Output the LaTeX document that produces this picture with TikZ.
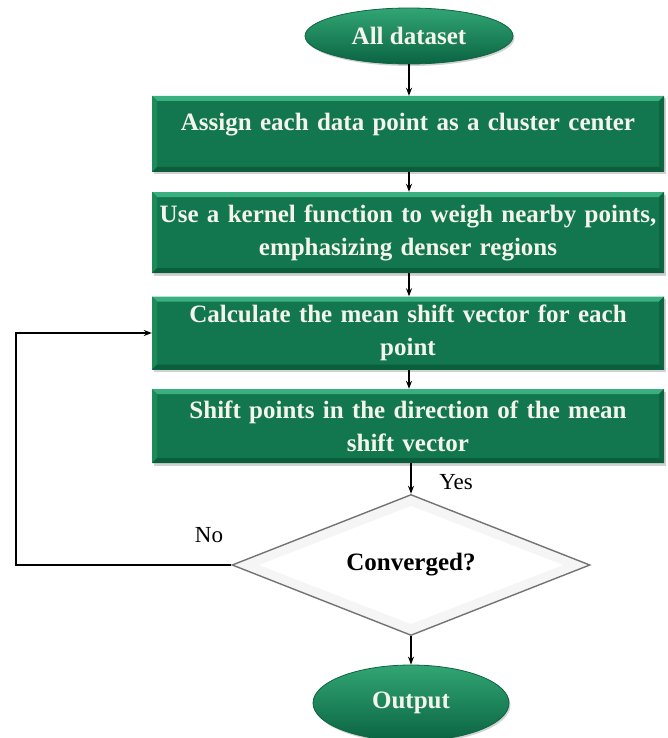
\documentclass[tikz,border=0pt]{standalone}
\usepackage{fontspec}
\setmainfont{Liberation Serif}
\usetikzlibrary{shapes.geometric,arrows.meta,shadows}
\definecolor{gmain}{HTML}{12774E}
\definecolor{gtop}{HTML}{3AB080}
\definecolor{gleft}{HTML}{1D8A5A}
\definecolor{gright}{HTML}{0D6541}
\definecolor{gbot}{HTML}{0B5E3C}
\definecolor{txtw}{HTML}{F4F4EC}
\definecolor{elltop}{HTML}{32A574}
\definecolor{ellbot}{HTML}{0A6442}
\tikzset{
  bigtxt/.style={font=\fontsize{25}{33}\selectfont\bfseries},
  stepbox/.style={rectangle, minimum width=512pt, inner sep=0pt, fill=gmain,
    text=txtw, bigtxt, align=center, text width=510pt,
    drop shadow={shadow xshift=2pt, shadow yshift=-2.5pt, opacity=0.3, fill=black!60},
    path picture={
      \fill[gtop] (path picture bounding box.north west) -- (path picture bounding box.north east)
        -- ([shift={(-5pt,-5pt)}]path picture bounding box.north east)
        -- ([shift={(5pt,-5pt)}]path picture bounding box.north west) -- cycle;
      \fill[gleft] (path picture bounding box.north west) -- ([shift={(5pt,-5pt)}]path picture bounding box.north west)
        -- ([shift={(5pt,5pt)}]path picture bounding box.south west) -- (path picture bounding box.south west) -- cycle;
      \fill[gright] (path picture bounding box.north east) -- ([shift={(-5pt,-5pt)}]path picture bounding box.north east)
        -- ([shift={(-5pt,5pt)}]path picture bounding box.south east) -- (path picture bounding box.south east) -- cycle;
      \fill[gbot] (path picture bounding box.south west) -- ([shift={(5pt,5pt)}]path picture bounding box.south west)
        -- ([shift={(-5pt,5pt)}]path picture bounding box.south east) -- (path picture bounding box.south east) -- cycle;
    }},
  terminal/.style={ellipse, inner sep=0pt, top color=elltop, bottom color=ellbot,
    draw=gright, line width=0.8pt, text=txtw, bigtxt,
    drop shadow={shadow xshift=1.5pt, shadow yshift=-2pt, opacity=0.3, fill=black!60}},
  decision/.style={diamond, aspect=2.54, inner sep=0pt, minimum width=358pt, minimum height=141pt,
    fill=black!4, draw=black!55, line width=1.4pt, text=black, bigtxt,
    path picture={
      \fill[white] ([yshift=59pt]path picture bounding box.center) -- ([xshift=152pt]path picture bounding box.center)
        -- ([yshift=-59pt]path picture bounding box.center) -- ([xshift=-152pt]path picture bounding box.center) -- cycle;
    }},
  arr/.style={-{Stealth[length=8pt,width=6pt]}, line width=1.3pt, black},
  lbl/.style={font=\fontsize{23}{26}\selectfont, text=black}
}
\begin{document}
\begin{tikzpicture}[x=1pt,y=-1pt]
\useasboundingbox (0,0) rectangle (667,738);
\node[terminal, minimum width=208pt, minimum height=56pt] (start) at (409,36) {All dataset};
\node[stepbox, minimum height=76pt] (b1) at (408,134) {Assign each data point as a cluster center\\[-8pt]\mbox{}};
\node[stepbox, minimum height=81pt] (b2) at (408,232.5) {Use a kernel function to weigh nearby points,\\emphasizing denser regions};
\node[stepbox, minimum height=73pt] (b3) at (408,333) {Calculate the mean shift vector for each\\point};
\node[stepbox, minimum height=74pt] (b4) at (408,426) {Shift points in the direction of the mean\\shift vector};
\node[decision] (dec) at (411,565) {Converged?};
\node[terminal, minimum width=196pt, minimum height=76pt] (out) at (411,703) {Output};
\coordinate (lc) at (16,565);
\draw[arr] (start) -- (start |- b1.north);
\draw[arr] (b1.south -| start) -- (b2.north -| start);
\draw[arr] (b2.south -| start) -- (b3.north -| start);
\draw[arr] (b3.south -| start) -- (b4.north -| start);
\draw[arr] (b4.south -| dec) -- (dec.north);
\draw[arr] (dec.south) -- (out.north);
\draw[arr, line width=1.8pt] (dec.west) -- (lc) |- (b3.west);
\node[lbl] (yes) at (456,482) {Yes};
\node[lbl] (no) at (209,535) {No};
\end{tikzpicture}
\end{document}
